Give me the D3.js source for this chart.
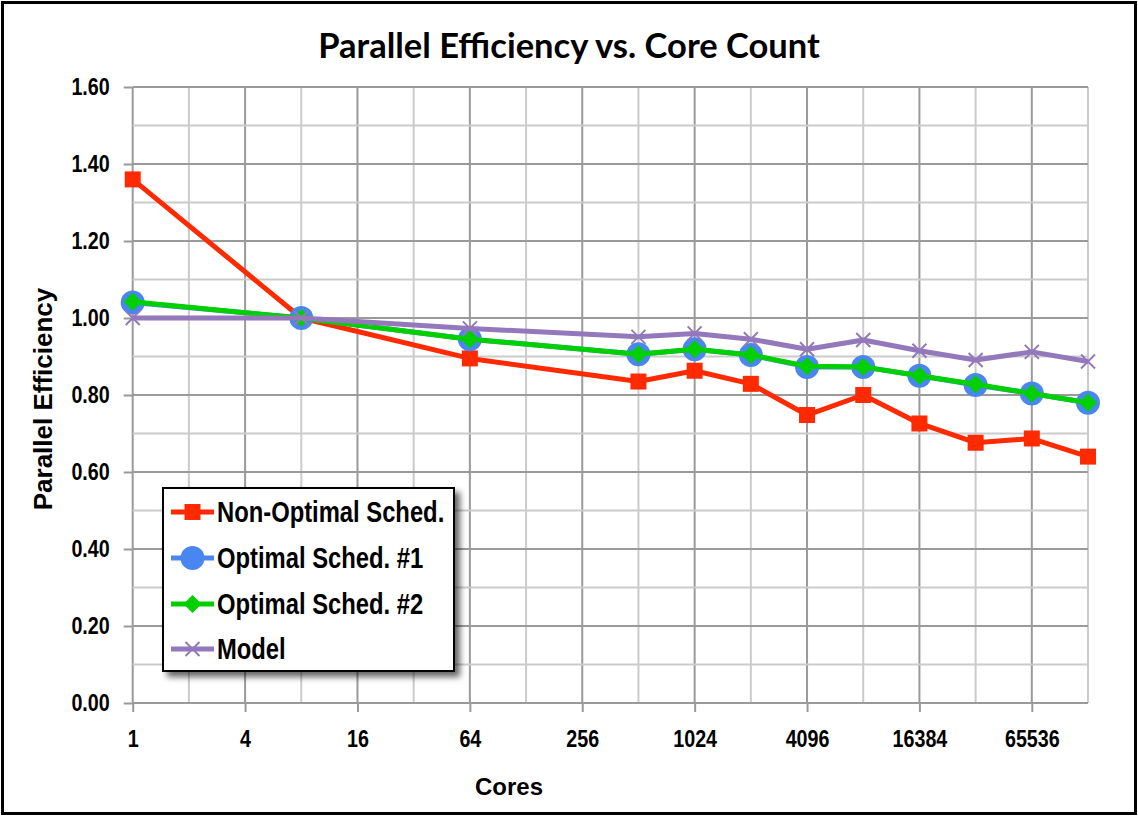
<!DOCTYPE html>
<html>
<head>
<meta charset="utf-8">
<script src="https://cdn.jsdelivr.net/npm/d3@7"></script>
<style>
  body { margin: 0; background: #fff; }
  .narrow { font-family: "Liberation Sans Narrow", "Arial Narrow", "Liberation Sans", sans-serif; font-weight: bold; }
</style>
</head>
<body>
<script>
var cores      = [1, 8, 64, 512, 1024, 2048, 4096, 8192, 16384, 32768, 65536, 131072];
var nonOptimal = [1.36, 1.00, 0.895, 0.835, 0.863, 0.829, 0.748, 0.800, 0.726, 0.676, 0.687, 0.640];
var optimal1   = [1.04, 1.00, 0.945, 0.906, 0.919, 0.904, 0.873, 0.873, 0.850, 0.826, 0.804, 0.780];
var optimal2   = [1.042, 1.00, 0.945, 0.906, 0.919, 0.904, 0.875, 0.873, 0.850, 0.828, 0.804, 0.780];
var model      = [1.00, 1.00, 0.973, 0.951, 0.960, 0.945, 0.919, 0.943, 0.915, 0.891, 0.912, 0.887];
var seriesNames = ["Non-Optimal Sched.", "Optimal Sched. #1", "Optimal Sched. #2", "Model"];
var xTicks = [1, 4, 16, 64, 256, 1024, 4096, 16384, 65536];
var yTicks = [0, 0.2, 0.4, 0.6, 0.8, 1.0, 1.2, 1.4, 1.6];

var width = 1138, height = 817;

var svg = d3.select("body").append("svg")
    .attr("width", width)
    .attr("height", height);

var defs = svg.append("defs");
var shadow = defs.append("filter").attr("id", "shadow")
    .attr("x", "-10%").attr("y", "-10%").attr("width", "130%").attr("height", "130%");
shadow.append("feDropShadow")
    .attr("dx", 5).attr("dy", 5)
    .attr("stdDeviation", 3)
    .attr("flood-color", "#000")
    .attr("flood-opacity", 0.6);

var x = d3.scaleLog().base(2)
    .domain([1, 131072])
    .range([132.7, 1088]);

var y = d3.scaleLinear()
    .domain([0, 1.6])
    .range([703, 87]);

// no narrow font installed, so squeeze the regular bold one
function narrow(sel) {
    sel.each(function() {
        var w = this.getComputedTextLength();
        d3.select(this)
            .attr("textLength", w * 0.82)
            .attr("lengthAdjust", "spacingAndGlyphs");
    });
}

// grid
var vLines = d3.range(0, 18).map((e) => Math.pow(2, e));
svg.append("g").selectAll("line").data(vLines).enter().append("line")
    .attr("x1", (d) => x(d)).attr("x2", (d) => x(d))
    .attr("y1", y(1.6)).attr("y2", y(0))
    .attr("stroke", (d, i) => i % 2 == 0 ? "#9a9a9a" : "#cbcbcb")
    .attr("stroke-width", 2);

var hLines = d3.range(0, 17).map((i) => i / 10);
svg.append("g").selectAll("line").data(hLines).enter().append("line")
    .attr("x1", x(1)).attr("x2", x(131072))
    .attr("y1", (d) => y(d)).attr("y2", (d) => y(d))
    .attr("stroke", (d, i) => i % 2 == 0 ? "#9a9a9a" : "#cbcbcb")
    .attr("stroke-width", 2);

// axes
var bottomAxis = d3.axisBottom(x)
    .tickValues(xTicks)
    .tickFormat(d3.format("d"))
    .tickSize(9)
    .tickPadding(18);

var gx = svg.append("g")
    .attr("transform", "translate(0," + y(0) + ")")
    .call(bottomAxis);
gx.select(".domain").remove();
gx.selectAll(".tick line").attr("stroke", "#9a9a9a").attr("stroke-width", 2);
gx.selectAll("text")
    .attr("class", "narrow")
    .attr("font-size", "24px")
    .attr("fill", "#000")
    .call(narrow);

var leftAxis = d3.axisLeft(y)
    .tickValues(yTicks)
    .tickFormat(d3.format(".2f"))
    .tickSize(9)
    .tickPadding(14);

var gy = svg.append("g")
    .attr("transform", "translate(" + x(1) + ",0)")
    .call(leftAxis);
gy.select(".domain").remove();
gy.selectAll(".tick line").attr("stroke", "#9a9a9a").attr("stroke-width", 2);
gy.selectAll("text")
    .attr("class", "narrow")
    .attr("font-size", "24px")
    .attr("fill", "#000")
    .call(narrow);

// titles
svg.append("text")
    .attr("x", 569)
    .attr("y", 58)
    .attr("text-anchor", "middle")
    .attr("font-family", "Lato, 'Open Sans', sans-serif")
    .attr("font-weight", "bold")
    .attr("font-size", "34.5px")
    .text("Parallel Efficiency vs. Core Count");

svg.append("text")
    .attr("transform", "translate(52," + 399 + ") rotate(-90)")
    .attr("text-anchor", "middle")
    .attr("font-family", "'Liberation Sans', Arial, sans-serif")
    .attr("font-weight", "bold")
    .attr("font-size", "26px")
    .text("Parallel Efficiency");

svg.append("text")
    .attr("x", 509)
    .attr("y", 795)
    .attr("text-anchor", "middle")
    .attr("font-family", "'Liberation Sans', Arial, sans-serif")
    .attr("font-weight", "bold")
    .attr("font-size", "24px")
    .text("Cores");

// series
var colors = ["#ff2a00", "#4a86f0", "#00d000", "#9478bc"];
var allSeries = [nonOptimal, optimal1, optimal2, model];

var line = d3.line()
    .x((d, i) => x(cores[i]))
    .y((d) => y(d));

function drawMarker(g, k, cx, cy) {
    if (k == 0) {
        g.append("rect").attr("x", cx - 8).attr("y", cy - 8)
            .attr("width", 16).attr("height", 16).attr("fill", colors[0]);
    } else if (k == 1) {
        g.append("circle").attr("cx", cx).attr("cy", cy).attr("r", 12).attr("fill", colors[1]);
    } else if (k == 2) {
        g.append("path")
            .attr("d", "M" + cx + "," + (cy - 9) + "L" + (cx + 9) + "," + cy + "L" + cx + "," + (cy + 9) + "L" + (cx - 9) + "," + cy + "Z")
            .attr("fill", colors[2]);
    } else {
        g.append("path")
            .attr("d", "M" + (cx - 7) + "," + (cy - 7) + "L" + (cx + 7) + "," + (cy + 7) + "M" + (cx + 7) + "," + (cy - 7) + "L" + (cx - 7) + "," + (cy + 7))
            .attr("stroke", colors[3]).attr("stroke-width", 2).attr("fill", "none");
    }
}

allSeries.forEach((vals, k) => {
    var g = svg.append("g");
    g.append("path")
        .datum(vals)
        .attr("d", line)
        .attr("fill", "none")
        .attr("stroke", colors[k])
        .attr("stroke-width", 5)
        .attr("stroke-linejoin", "round");
    vals.forEach((v, i) => drawMarker(g, k, x(cores[i]), y(v)));
});

// legend
var legend = svg.append("g");
legend.append("rect")
    .attr("x", 163).attr("y", 488)
    .attr("width", 291).attr("height", 183)
    .attr("fill", "#fff")
    .attr("stroke", "#000")
    .attr("stroke-width", 2)
    .attr("filter", "url(#shadow)");

var rowY = [512, 558, 604, 649];
seriesNames.forEach((name, k) => {
    var row = legend.append("g");
    row.append("line")
        .attr("x1", 171).attr("x2", 214)
        .attr("y1", rowY[k]).attr("y2", rowY[k])
        .attr("stroke", colors[k]).attr("stroke-width", 5);
    drawMarker(row, k, 192.5, rowY[k]);
    row.append("text")
        .attr("class", "narrow")
        .attr("x", 217)
        .attr("y", rowY[k])
        .attr("dy", "0.36em")
        .attr("font-size", "29px")
        .text(name)
        .call(narrow);
});

// outer border
svg.append("rect")
    .attr("x", 2.5).attr("y", 2.5)
    .attr("width", 1133).attr("height", 811)
    .attr("fill", "none")
    .attr("stroke", "#000")
    .attr("stroke-width", 3);
</script>
</body>
</html>
